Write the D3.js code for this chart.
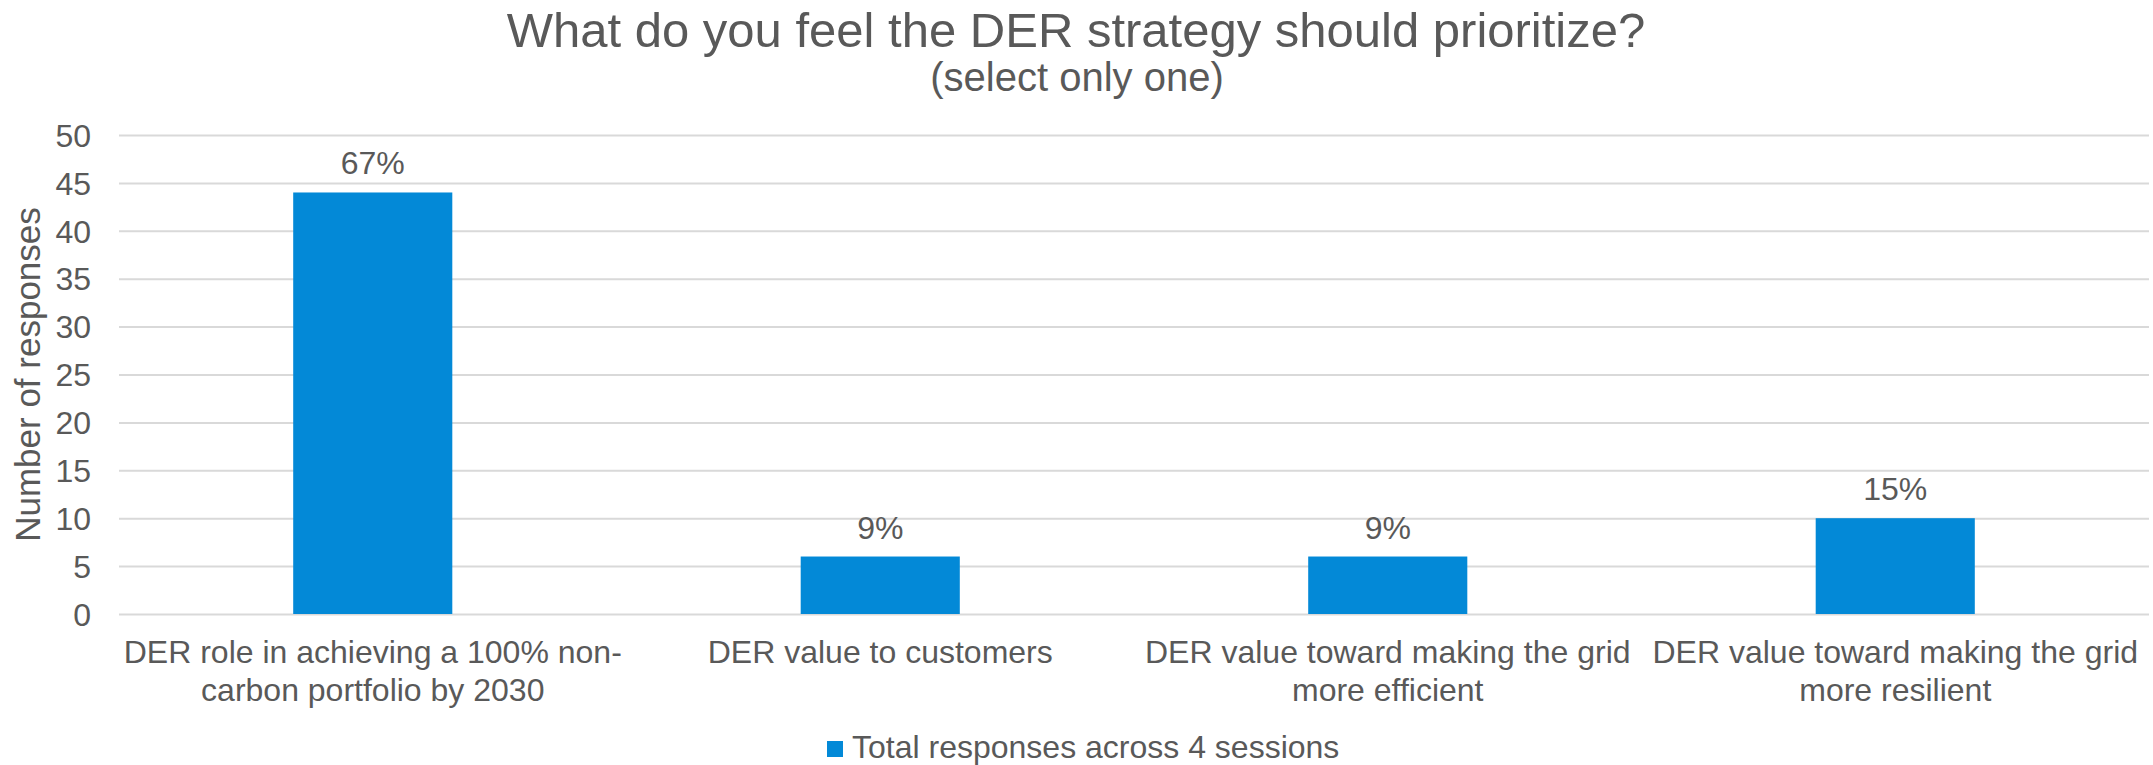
<!DOCTYPE html>
<html>
<head>
<meta charset="utf-8">
<script src="https://cdn.jsdelivr.net/npm/d3@7"></script>
<style>
  body { margin: 0; background: #fff; }
  text { font-family: "Liberation Sans", Arial, sans-serif; fill: #595959; }
</style>
</head>
<body>
<div class="chart"></div>
<script>
// chart data
const categories = [
  ["DER role in achieving a 100% non-", "carbon portfolio by 2030"],
  ["DER value to customers"],
  ["DER value toward making the grid", "more efficient"],
  ["DER value toward making the grid", "more resilient"]
];
const responses = [44, 6, 6, 10];
const shareLabels = ["67%", "9%", "9%", "15%"];
const yTicks = [0, 5, 10, 15, 20, 25, 30, 35, 40, 45, 50];
const seriesName = "Total responses across 4 sessions";

const W = 2153, H = 765;
const margin = { top: 135, right: 4, bottom: 151, left: 119 };
const width = W - margin.left - margin.right,
  height = H - margin.top - margin.bottom;

const svg = d3.select(".chart").append("svg")
  .attr("width", W)
  .attr("height", H);

const g = svg.append("g")
  .attr("transform", "translate(" + margin.left + "," + margin.top + ")");

const xScale = d3.scaleBand()
  .domain(d3.range(categories.length))
  .range([0, width])
  .padding(0);

const yScale = d3.scaleLinear().domain([0, 50]).range([height, 0]);

// gridlines + tick labels
const yAxis = d3.axisLeft(yScale).tickValues(yTicks).tickSize(-width).tickPadding(28);
const yG = g.append("g").attr("class", "y-axis").call(yAxis);
yG.select(".domain").remove();
yG.selectAll(".tick line").attr("stroke", "#d9d9d9").attr("stroke-width", 2);
yG.selectAll(".tick text")
  .style("font-size", "32px")
  .attr("fill", "#595959")
  .attr("dy", "0.35em");

const barW = xScale.bandwidth() * 0.3135;

g.selectAll(".bar")
  .data(responses)
  .enter()
  .append("rect")
  .attr("class", "bar")
  .attr("x", (d, i) => xScale(i) + (xScale.bandwidth() - barW) / 2)
  .attr("y", (d) => yScale(d))
  .attr("width", barW)
  .attr("height", (d) => height - yScale(d))
  .attr("fill", "#0389d7");

g.selectAll(".bar-label")
  .data(responses)
  .enter()
  .append("text")
  .attr("class", "bar-label")
  .attr("x", (d, i) => xScale(i) + xScale.bandwidth() / 2)
  .attr("y", (d) => yScale(d) - 18)
  .attr("text-anchor", "middle")
  .style("font-size", "32px")
  .text((d, i) => shareLabels[i]);

// category labels
const xl = g.selectAll(".x-label")
  .data(categories)
  .enter()
  .append("text")
  .attr("class", "x-label")
  .attr("text-anchor", "middle")
  .style("font-size", "32px");
xl.each(function (lines, i) {
  const t = d3.select(this);
  lines.forEach((ln, j) => {
    t.append("tspan")
      .attr("x", xScale(i) + xScale.bandwidth() / 2)
      .attr("y", height + 49 + j * 38)
      .text(ln);
  });
});

// y title
svg.append("text")
  .attr("transform", "translate(40," + (margin.top + height / 2) + ") rotate(-90)")
  .attr("text-anchor", "middle")
  .style("font-size", "35px")
  .text("Number of responses");

// titles
svg.append("text")
  .attr("x", 1076)
  .attr("y", 47)
  .attr("text-anchor", "middle")
  .style("font-size", "49px")
  .text("What do you feel the DER strategy should prioritize?");

svg.append("text")
  .attr("x", 1077)
  .attr("y", 91)
  .attr("text-anchor", "middle")
  .style("font-size", "40px")
  .text("(select only one)");

// legend
const legend = svg.append("g").attr("transform", "translate(827,741)");
legend.append("rect").attr("width", 16).attr("height", 16).attr("fill", "#0389d7");
legend.append("text")
  .attr("x", 25)
  .attr("y", 17)
  .style("font-size", "32px")
  .text(seriesName);
</script>
</body>
</html>
